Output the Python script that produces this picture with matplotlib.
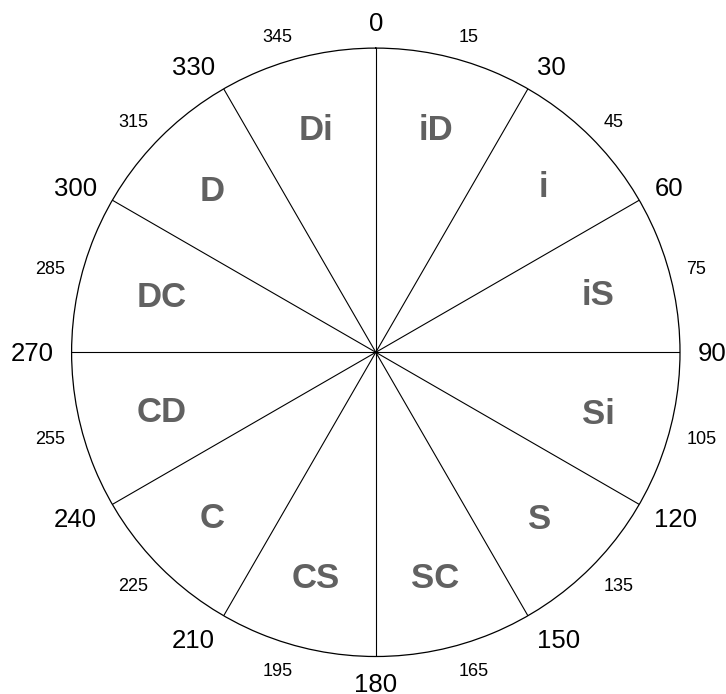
import numpy as np
import matplotlib
matplotlib.use("Agg")
import matplotlib.pyplot as plt

plt.rcParams['font.family'] = ['Liberation Sans', 'DejaVu Sans']

sector_labels = ["iD", "i", "iS", "Si", "S", "SC", "CS", "C", "CD", "DC", "D", "Di"]
sector_mid_angles = [15, 45, 75, 105, 135, 165, 195, 225, 255, 285, 315, 345]
major_angles = [0, 30, 60, 90, 120, 150, 180, 210, 240, 270, 300, 330]
minor_angles = [15, 45, 75, 105, 135, 165, 195, 225, 255, 285, 315, 345]

W, H = 726, 694
DPI = 100
cx, cy, R = 375.8, 352.3, 304.2
GAP_OUT = 17.5    # px gap between circle and outer labels
INNER_EDGE = 55   # px inward from circle to outer edge of sector label

fig = plt.figure(figsize=(W / DPI, H / DPI), dpi=DPI)
ax = fig.add_axes([(cx - R) / W, (H - cy - R) / H, 2 * R / W, 2 * R / H], projection='polar')
ax.set_theta_zero_location('N')
ax.set_theta_direction(-1)
ax.set_ylim(0, 1)
ax.grid(False)
ax.set_xticks([])
ax.set_yticks([])
ax.spines['polar'].set_linewidth(0.9)
ax.spines['polar'].set_color('black')

for a in major_angles:
    t = np.deg2rad(a)
    ax.plot([t, t], [0, 1], color='black', lw=0.8)

renderer = fig.canvas.get_renderer()


def text_size(s, fs, weight):
    t = fig.text(0, 0, s, fontsize=fs, fontweight=weight)
    bb = t.get_window_extent(renderer)
    t.remove()
    w = bb.width
    h = 0.716 * fs * DPI / 72.0
    return w, h


def sgn(v):
    return 0.0 if abs(v) < 1e-6 else np.sign(v)


def place(s, angle, fs, weight, color, outward):
    th = np.deg2rad(angle)
    ux, uy = np.sin(th), np.cos(th)
    w, h = text_size(s, fs, weight)
    if outward:
        dx = ux * GAP_OUT + sgn(ux) * w / 2
        dy = uy * (GAP_OUT + h / 2)
    else:
        proj = abs(ux) * w / 2 + abs(uy) * h / 2
        d = -(INNER_EDGE + proj)
        dx, dy = ux * d, uy * d
    dy -= h / 2
    k = 72.0 / DPI
    ax.annotate(s, xy=(th, 1), xycoords='data', xytext=(dx * k, dy * k),
                textcoords='offset points', ha='center', va='baseline',
                fontsize=fs, fontweight=weight, color=color, annotation_clip=False)


for lab, a in zip(sector_labels, sector_mid_angles):
    place(lab, a, 25, 'bold', '#616161', outward=False)

for a in major_angles:
    place(str(a), a, 18.5, 'normal', 'black', outward=True)

for a in minor_angles:
    place(str(a), a, 13, 'normal', 'black', outward=True)

fig.savefig("out.png", dpi=DPI)
